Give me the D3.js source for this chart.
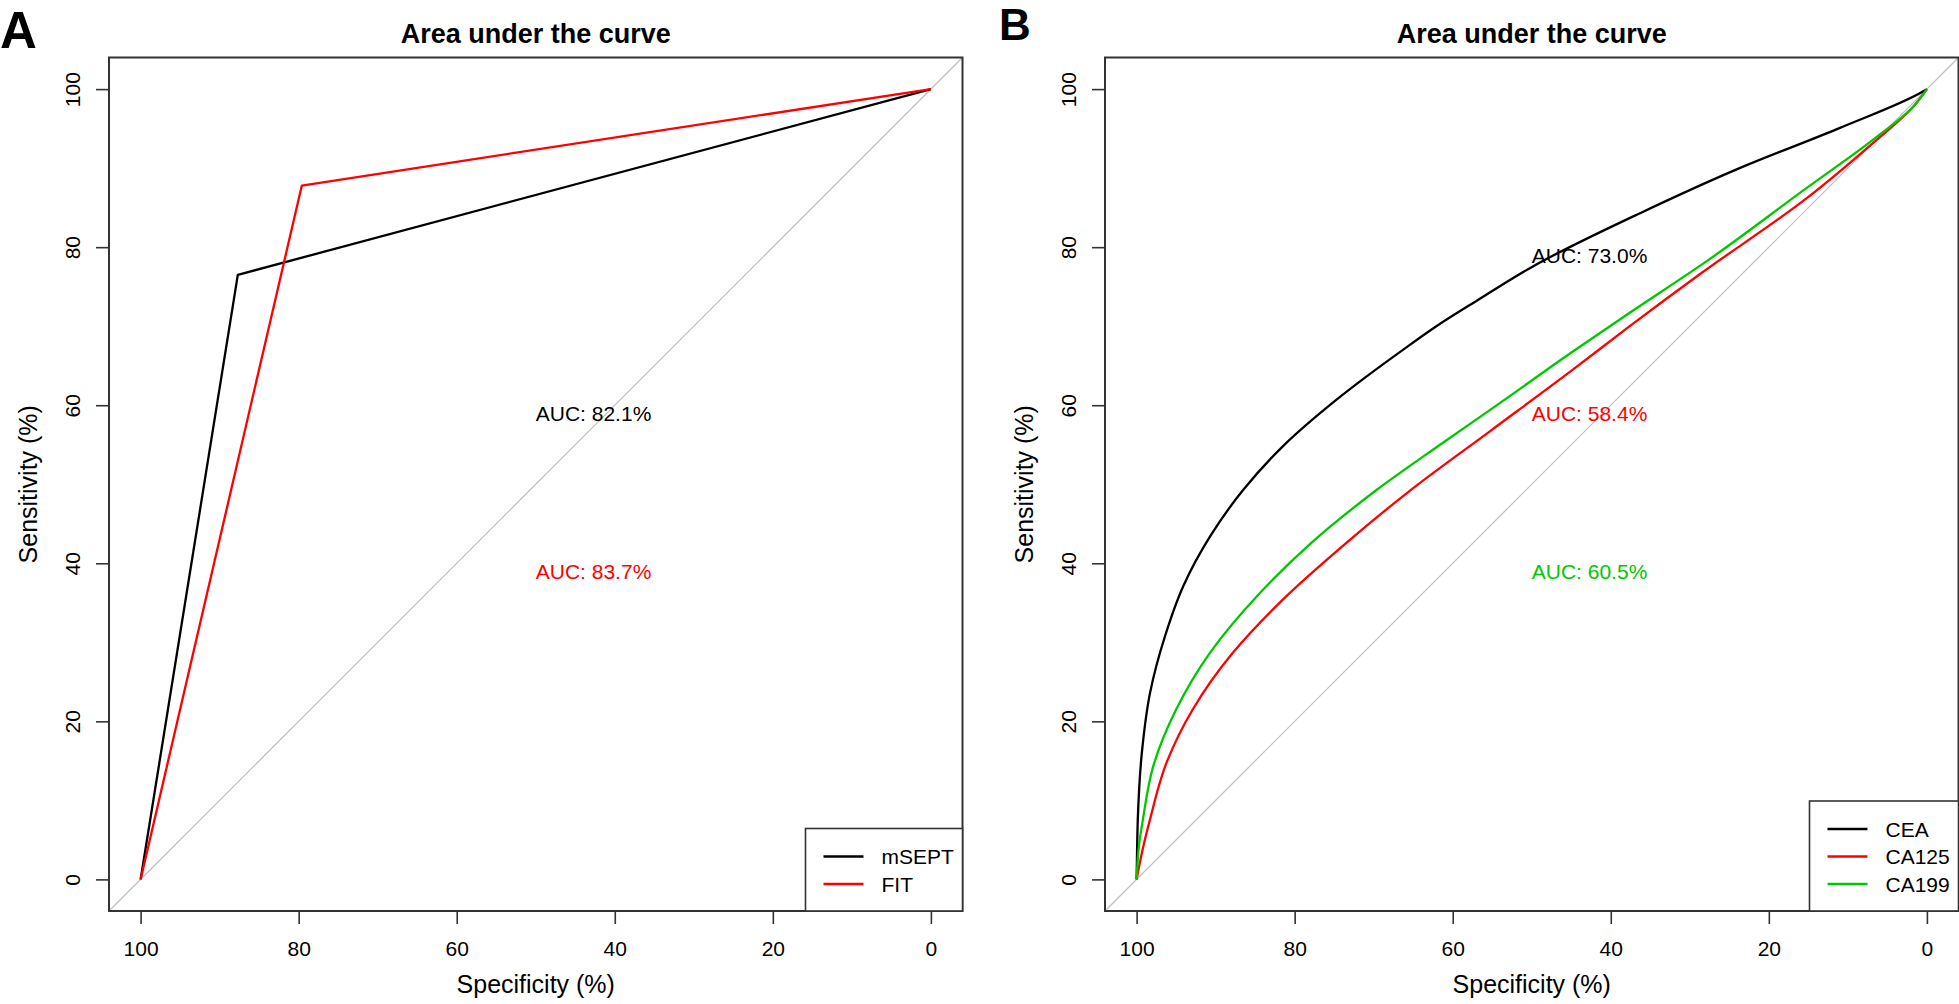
<!DOCTYPE html>
<html>
<head>
    <title>Area under the curve</title>
    <script src="https://d3js.org/d3.v7.min.js"></script>
    <style>
        body { margin: 0; background: #fff; }
        svg text { font-family: "Liberation Sans", Arial, Helvetica, sans-serif; }
    </style>
</head>
<body>
    <div id="container"></div>

    <script>
        // ---- data (specificity %, sensitivity %) ----
        var msept_spec = [100, 87.7, 0];
        var msept_sens = [0, 76.5, 100];
        var fit_spec = [100, 79.6, 0];
        var fit_sens = [0, 87.8, 100];

        var cea_spec = [100, 99.95, 99.85, 99.3, 98.3, 96.4, 94.1, 90.7, 86.5, 81.5, 74.7, 66.3, 61.6, 57.0, 49.8, 36.3, 23.7, 11.0, 0.5, 0];
        var cea_sens = [0, 3.0, 7.6, 16.4, 23.6, 30.8, 37.1, 43.4, 49.3, 54.8, 60.7, 67.0, 70.3, 73.2, 77.6, 84.3, 90.0, 95.1, 99.7, 100];

        var ca125_spec = [100, 99.3, 98.3, 96.2, 92.9, 87.8, 81.5, 73.9, 65.4, 55.3, 44.8, 37.6, 28.7, 15.2, 6.8, 1.7, 0];
        var ca125_sens = [0, 3.5, 7.6, 14.8, 21.5, 28.7, 35.4, 42.2, 49.2, 56.7, 64.5, 70.0, 76.6, 86.2, 93.2, 97.8, 100];

        var ca199_spec = [100, 99.7, 99.2, 97.9, 95.0, 90.7, 84.8, 78.1, 69.6, 61.6, 54.0, 44.8, 37.6, 27.9, 15.2, 6.8, 1.7, 0];
        var ca199_sens = [0, 4.3, 7.6, 14.3, 21.5, 28.7, 35.8, 42.4, 49.3, 55.0, 60.3, 66.8, 71.7, 78.2, 87.5, 93.6, 97.8, 100];

        var tickValues = [100, 80, 60, 40, 20, 0];
        var titleText = "Area under the curve";
        var xLabel = "Specificity (%)";
        var yLabel = "Sensitivity (%)";

        function zip(a, b) { return a.map(function(v, i) { return [v, b[i]]; }); }

        var panels = [
            {
                letter: "A", letterX: 0, letterY: 48, letterSize: 51,
                left: 109, legendWidth: 157, curve: d3.curveLinear,
                series: [
                    { name: "mSEPT", color: "#000000", pts: zip(msept_spec, msept_sens), auc: "AUC: 82.1%", aucY: 60 },
                    { name: "FIT", color: "#ff0000", pts: zip(fit_spec, fit_sens), auc: "AUC: 83.7%", aucY: 40 }
                ]
            },
            {
                letter: "B", letterX: 999, letterY: 40, letterSize: 44,
                left: 1105, legendWidth: 149, curve: d3.curveMonotoneY,
                series: [
                    { name: "CEA", color: "#000000", pts: zip(cea_spec, cea_sens), auc: "AUC: 73.0%", aucY: 80 },
                    { name: "CA125", color: "#ff0000", pts: zip(ca125_spec, ca125_sens), auc: "AUC: 58.4%", aucY: 60 },
                    { name: "CA199", color: "#00c800", pts: zip(ca199_spec, ca199_sens), auc: "AUC: 60.5%", aucY: 40 }
                ]
            }
        ];

        var W = 1959, H = 1004;
        var plotTop = 57.5, plotSize = 853.5;
        var boxColor = "#333";

        var svg = d3.select("#container").append("svg")
            .attr("width", W)
            .attr("height", H);

        svg.append("rect").attr("width", W).attr("height", H).attr("fill", "#fff");

        panels.forEach(function(p) {
            var x = d3.scaleLinear().domain([104, -4]).range([p.left, p.left + plotSize]);
            var y = d3.scaleLinear().domain([-4, 104]).range([plotTop + plotSize, plotTop]);
            var bottom = plotTop + plotSize;
            var cx = p.left + plotSize / 2;
            var g = svg.append("g");

            // panel letter
            g.append("text")
                .attr("x", p.letterX).attr("y", p.letterY)
                .attr("font-size", p.letterSize).attr("font-weight", "bold")
                .text(p.letter);

            // title
            g.append("text")
                .attr("x", cx).attr("y", 43)
                .attr("text-anchor", "middle")
                .attr("font-size", 27).attr("font-weight", "bold")
                .text(titleText);

            // identity line
            g.append("line")
                .attr("x1", x(104)).attr("y1", y(-4))
                .attr("x2", x(-4)).attr("y2", y(104))
                .attr("stroke", "#bebebe").attr("stroke-width", 1.2);

            // curves
            var line = d3.line()
                .x(function(d) { return x(d[0]); })
                .y(function(d) { return y(d[1]); })
                .curve(p.curve);

            p.series.forEach(function(s) {
                g.append("path")
                    .datum(s.pts)
                    .attr("d", line)
                    .attr("fill", "none")
                    .attr("stroke", s.color)
                    .attr("stroke-width", 2.3)
                    .attr("stroke-linejoin", "round");
            });

            // AUC labels
            p.series.forEach(function(s) {
                g.append("text")
                    .attr("x", x(50)).attr("y", y(s.aucY) + 15.5)
                    .attr("font-size", 21)
                    .attr("fill", s.color)
                    .text(s.auc);
            });

            // x axis
            var xAxis = g.append("g")
                .attr("transform", "translate(0," + bottom + ")")
                .call(d3.axisBottom(x).tickValues(tickValues).tickSize(13).tickPadding(17)
                    .tickFormat(d3.format("d")));
            xAxis.select(".domain").remove();
            xAxis.selectAll("line").attr("stroke", boxColor).attr("stroke-width", 1.6);
            xAxis.selectAll("text").attr("font-size", 21).attr("fill", "#000")
                .style("font-family", "'Liberation Sans', Arial, sans-serif");

            // y axis with rotated labels
            var yAxis = g.append("g")
                .attr("transform", "translate(" + p.left + ",0)")
                .call(d3.axisLeft(y).tickValues(tickValues).tickSize(13).tickFormat(d3.format("d")));
            yAxis.select(".domain").remove();
            yAxis.selectAll("line").attr("stroke", boxColor).attr("stroke-width", 1.6);
            yAxis.selectAll("text")
                .attr("x", null).attr("dy", null)
                .attr("text-anchor", "middle")
                .attr("transform", "translate(-29,0) rotate(-90)")
                .attr("font-size", 21).attr("fill", "#000")
                .style("font-family", "'Liberation Sans', Arial, sans-serif");

            // axis titles
            g.append("text")
                .attr("x", cx).attr("y", 993)
                .attr("text-anchor", "middle")
                .attr("font-size", 25)
                .text(xLabel);
            g.append("text")
                .attr("transform", "translate(" + (p.left - 72) + "," + (plotTop + plotSize / 2) + ") rotate(-90)")
                .attr("text-anchor", "middle")
                .attr("font-size", 25)
                .text(yLabel);

            // plot box
            g.append("rect")
                .attr("x", p.left).attr("y", plotTop)
                .attr("width", plotSize).attr("height", plotSize)
                .attr("fill", "none").attr("stroke", boxColor).attr("stroke-width", 2);

            // legend (bottom right)
            var n = p.series.length;
            var legH = 27.5 * (n + 1);
            var legX = p.left + plotSize - p.legendWidth;
            var legY = bottom - legH;
            var leg = g.append("g");
            leg.append("rect")
                .attr("x", legX).attr("y", legY)
                .attr("width", p.legendWidth).attr("height", legH)
                .attr("fill", "#fff").attr("stroke", boxColor).attr("stroke-width", 1.6);
            p.series.forEach(function(s, i) {
                var ry = legY + 28 + 27.5 * i;
                leg.append("line")
                    .attr("x1", legX + 18).attr("x2", legX + 58)
                    .attr("y1", ry).attr("y2", ry)
                    .attr("stroke", s.color).attr("stroke-width", 2.6);
                leg.append("text")
                    .attr("x", legX + 76).attr("y", ry + 7.5)
                    .attr("font-size", 21)
                    .text(s.name);
            });
        });
    </script>
</body>
</html>
